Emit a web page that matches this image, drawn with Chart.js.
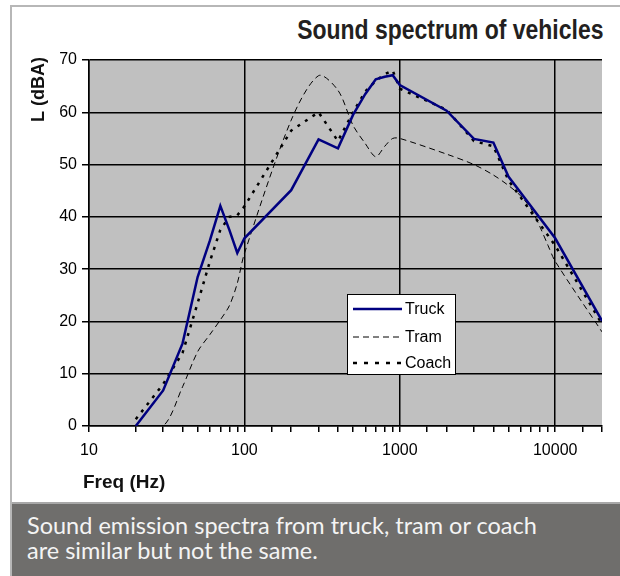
<!DOCTYPE html>
<html>
<head>
<meta charset="utf-8">
<script src="https://cdn.jsdelivr.net/npm/chart.js@4/dist/chart.umd.min.js"></script>
<style>
  html, body { margin:0; padding:0; }
  body { width:620px; height:576px; position:relative; overflow:hidden; background:#fff; }
  #frame { position:absolute; left:10px; top:5px; width:620px; height:600px;
           border-left:2px solid #b7b7b7; border-top:2px solid #b7b7b7; }
  #title { position:absolute; right:17px; top:13px; white-space:nowrap;
           font-family:"Liberation Sans",Arial,sans-serif;
           font-weight:bold; font-size:28px; line-height:34px; color:#231f20;
           transform:scaleX(0.82); transform-origin:right center; }
  #c { position:absolute; left:0; top:0; }
  #caption { position:absolute; left:12px; top:502px; width:593px; height:72px;
             background:#6f6e6c; border-top:2px solid #a8a8a8; color:#f4f4f4;
             font-family:Lato,"Open Sans",sans-serif; font-size:23.5px; line-height:25px;
             padding-left:15px; padding-top:9px; box-sizing:content-box; }
</style>
</head>
<body>
<div id="frame"></div>
<div id="title">Sound spectrum of vehicles</div>
<canvas id="c" width="620" height="576"></canvas>
<div id="caption">Sound emission spectra from truck, tram or coach<br>are similar but not the same.</div>
<script>
// ---- data ----
const truckFreq  = [20, 30, 40, 50, 60, 70, 80, 90, 100, 200, 300, 400, 500, 600, 700, 800, 900, 1000, 2000, 3000, 4000, 5000, 10000, 20000];
const truckLevel = [0, 6.8, 15.8, 28.5, 35.5, 42.1, 37.5, 33.1, 35.9, 45.1, 54.8, 53.1, 59.5, 63.5, 66.3, 66.8, 67.1, 65.2, 60.3, 54.9, 54.2, 47.7, 35.9, 20.1];

const tramFreq  = [20, 30, 40, 50, 60, 70, 80, 90, 100, 200, 300, 400, 500, 600, 700, 800, 900, 1000, 2000, 3000, 4000, 5000, 6000, 7000, 8000, 9000, 10000, 20000];
const tramLevel = [0, 0, 7.5, 14.2, 17.5, 20.3, 23, 27.3, 33, 58.5, 67, 64.2, 57.5, 54, 51.5, 53.5, 55, 55, 52, 50, 48, 46, 44, 41.5, 38, 34.5, 31.5, 18];

const coachFreq  = [20, 30, 40, 50, 60, 70, 80, 90, 100, 200, 300, 400, 500, 600, 700, 800, 900, 1000, 2000, 3000, 4000, 5000, 10000, 20000];
const coachLevel = [1.3, 8, 14, 23.5, 31.5, 37.5, 40, 40.3, 42, 56.5, 60, 54.5, 60, 64, 66, 67.3, 68, 64.5, 60.5, 54.5, 53.5, 47, 34.5, 19.5];

const seriesNames = ["Truck", "Tram", "Coach"];
const xTickLabels = [10, 100, 1000, 10000];
const yTickValues = [0, 10, 20, 30, 40, 50, 60, 70];
const xAxisTitle = "Freq (Hz)";
const yAxisTitle = "L (dBA)";

const pts = (fs, ls) => fs.map((f, i) => ({ x: f, y: ls[i] }));
const isDecade = v => Math.abs(Math.log10(v) - Math.round(Math.log10(v))) < 1e-9;

const bgPlugin = {
  id: 'plotBg',
  beforeDraw(chart) {
    const { ctx, chartArea: a } = chart;
    ctx.save();
    ctx.fillStyle = '#c0c0c0';
    ctx.fillRect(a.left, a.top, a.right - a.left, a.bottom - a.top);
    ctx.restore();
  }
};

const textPlugin = {
  id: 'axisTitlesLegend',
  afterDraw(chart) {
    const { ctx, chartArea: a } = chart;
    ctx.save();
    ctx.fillStyle = '#111';
    ctx.font = 'bold 18px "Liberation Sans", Arial, sans-serif';
    ctx.translate(a.left - 45, a.top + 62);
    ctx.rotate(-Math.PI / 2);
    ctx.textAlign = 'left';
    ctx.textBaseline = 'alphabetic';
    ctx.fillText(yAxisTitle, 0, 0);
    ctx.restore();

    ctx.save();
    ctx.fillStyle = '#111';
    ctx.font = 'bold 19px "Liberation Sans", Arial, sans-serif';
    ctx.textAlign = 'left';
    ctx.textBaseline = 'alphabetic';
    ctx.fillText(xAxisTitle, a.left - 6, a.bottom + 62);
    ctx.restore();

    const lx = a.left + 258, ly = a.top + 234, lw = 109, lh = 81;
    ctx.save();
    ctx.fillStyle = '#fff';
    ctx.fillRect(lx, ly, lw, lh);
    ctx.strokeStyle = '#000';
    ctx.lineWidth = 1;
    ctx.strokeRect(lx + 0.5, ly + 0.5, lw - 1, lh - 1);
    const rows = [15, 43, 69];
    chart.data.datasets.forEach((ds, i) => {
      const y = ly + rows[i];
      ctx.beginPath();
      ctx.strokeStyle = ds.borderColor;
      ctx.lineWidth = ds.borderWidth;
      ctx.setLineDash(ds.legendDash || ds.borderDash || []);
      ctx.moveTo(lx + 6, y);
      ctx.lineTo(lx + 55, y);
      ctx.stroke();
      ctx.setLineDash([]);
      ctx.fillStyle = '#000';
      ctx.font = '16px "Liberation Sans", Arial, sans-serif';
      ctx.textAlign = 'left';
      ctx.textBaseline = 'middle';
      ctx.fillText(ds.label, lx + 58, y + 1);
    });
    ctx.restore();
  }
};

new Chart(document.getElementById('c'), {
  type: 'line',
  data: {
    datasets: [
      { label: seriesNames[0], data: pts(truckFreq, truckLevel), borderColor: '#000080', borderWidth: 2.5,
        pointRadius: 0, tension: 0, fill: false },
      { label: seriesNames[1], data: pts(tramFreq, tramLevel), borderColor: '#000000', borderWidth: 1,
        borderDash: [6, 4], pointRadius: 0, tension: 0.3, fill: false },
      { label: seriesNames[2], data: pts(coachFreq, coachLevel), borderColor: '#000000', borderWidth: 2.5,
        borderDash: [3, 6], legendDash: [4, 7], pointRadius: 0, tension: 0, fill: false }
    ]
  },
  options: {
    responsive: false,
    animation: false,
    devicePixelRatio: 1,
    layout: { padding: { left: 0, right: 18, top: 60, bottom: 70 } },
    plugins: { legend: { display: false }, title: { display: false }, tooltip: { enabled: false } },
    scales: {
      x: {
        type: 'logarithmic', min: 10, max: 20000, position: 'bottom',
        grid: {
          color: c => (c.tick && isDecade(c.tick.value)) ? '#000' : 'rgba(0,0,0,0)',
          tickColor: '#000', tickLength: 6, lineWidth: 1.5
        },
        border: { color: '#000', width: 1.5 },
        ticks: {
          autoSkip: false, maxRotation: 0, minRotation: 0, color: '#000', padding: 9,
          font: { family: '"Liberation Sans", Arial, sans-serif', size: 16 },
          callback: v => xTickLabels.includes(Math.round(v)) && isDecade(v) ? String(Math.round(v)) : ''
        },
        afterFit: s => { s.height = 80; }
      },
      y: {
        min: 0, max: 70,
        afterBuildTicks: s => { s.ticks = yTickValues.map(v => ({ value: v })); },
        grid: { color: '#000', tickColor: '#000', tickLength: 7, lineWidth: 1.5 },
        border: { color: '#000', width: 1.5 },
        ticks: { color: '#000', padding: 5, font: { family: '"Liberation Sans", Arial, sans-serif', size: 16 } },
        afterFit: s => { s.width = 89; }
      }
    }
  },
  plugins: [bgPlugin, textPlugin]
});
</script>
</body>
</html>
